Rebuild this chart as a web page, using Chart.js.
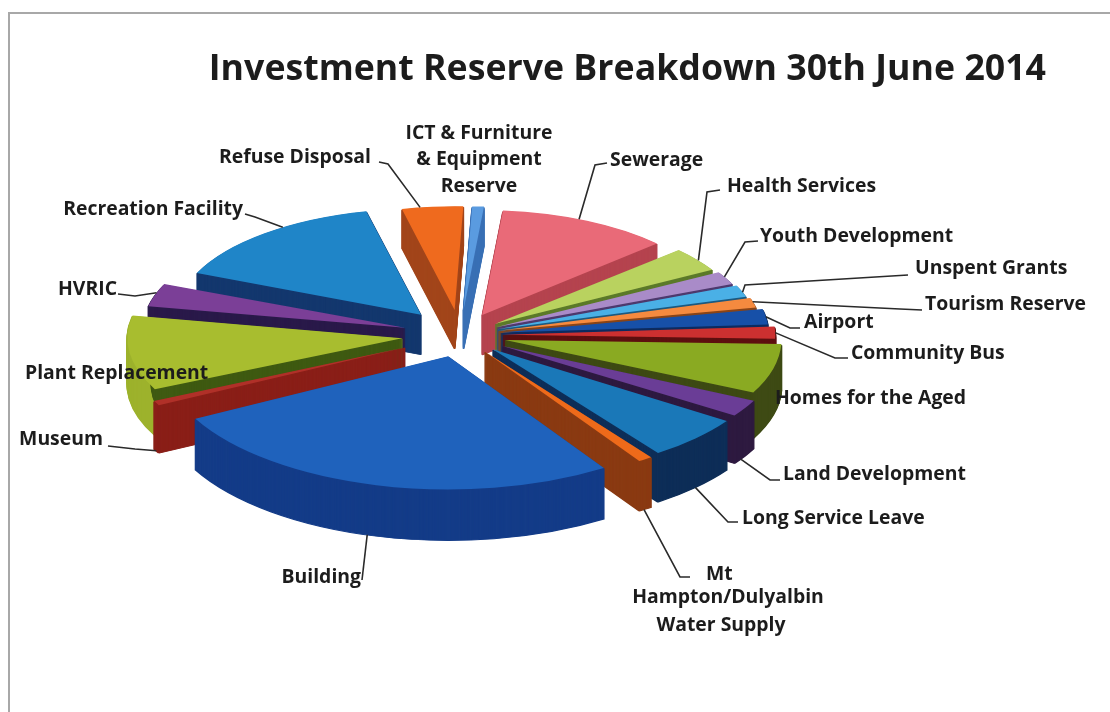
<!DOCTYPE html>
<html>
<head>
<meta charset="utf-8">
<script src="https://cdn.jsdelivr.net/npm/chart.js@4"></script>
<style>
  html, body { margin: 0; padding: 0; background: #fff; overflow: hidden; }
  #frame { position: absolute; left: 8px; top: 12px; width: 1200px; height: 800px; border-left: 2px solid #a8a8a8; border-top: 2px solid #a8a8a8; }
  canvas { position: absolute; left: 0; top: 0; }
</style>
</head>
<body>
<div id="frame"></div>
<canvas id="pie" width="1110" height="712"></canvas>
<script>
const titleText = 'Investment Reserve Breakdown 30th June 2014'

const categories = ['Sewerage', 'Health Services', 'Youth Development', 'Unspent Grants', 'Tourism Reserve', 'Airport', 'Community Bus', 'Homes for the Aged', 'Land Development', 'Long Service Leave', 'Mt Hampton/Dulyalbin Water Supply', 'Building', 'Museum', 'Plant Replacement', 'HVRIC', 'Recreation Facility', 'Refuse Disposal', 'ICT & Furniture & Equipment Reserve']
const shares = [11.7, 3.6, 1.9, 1.7, 1.4, 2.2, 1.7, 6.7, 2.2, 5.6, 0.8, 26.4, 0.6, 10.3, 3.3, 15, 4.2, 0.8]

const topColors = ['#e96a78', '#b9d25f', '#a98bc8', '#4ab0e6', '#f58a3f', '#1750a8', '#cc3030', '#8aaa22', '#6a3d96', '#1a78b8', '#ee6a1a', '#1f62bc', '#b03028', '#a8bd2f', '#7b3f97', '#1f85c8', '#ef6a1e', '#5a9be0']
const wallColors = ['#b5444f', '#5c7a2a', '#4e3a6e', '#1c5a80', '#8a4518', '#0e2c60', '#5e1010', '#3e4a14', '#2e1a40', '#0e2e58', '#8a3a12', '#143c88', '#8a1f18', '#3f5a12', '#2a1a4a', '#14386e', '#a2451a', '#3a70b5']
// only Plant Replacement has a curved outside wall that differs from its cut face
const rimColors = [null, null, null, null, null, null, null, null, null, null, null, null, null, '#9db22c', null, null, null, null]
// how far each slice is pulled out of the pie
const explode = [58, 48, 44, 42, 41, 42, 43, 46, 48, 44, 42, 45, 60, 58, 60, 68, 66, 66]

// text lines, anchor x, middle y, alignment
const labelText = [
  [['Sewerage'], 610, 160, 'left'],
  [['Health Services'], 727, 186, 'left'],
  [['Youth Development'], 760, 236, 'left'],
  [['Unspent Grants'], 915, 268, 'left'],
  [['Tourism Reserve'], 925, 304, 'left'],
  [['Airport'], 804, 322, 'left'],
  [['Community Bus'], 851, 353, 'left'],
  [['Homes for the Aged'], 775, 398, 'left'],
  [['Land Development'], 783, 474, 'left'],
  [['Long Service Leave'], 742, 518, 'left'],
  [['Mt'], 706, 574, 'left'],
  [['Building'], 361, 577, 'right'],
  [['Museum'], 103, 439, 'right'],
  [['Plant Replacement'], 25, 373, 'left'],
  [['HVRIC'], 117, 289, 'right'],
  [['Recreation Facility'], 243, 209, 'right'],
  [['Refuse Disposal'], 371, 157, 'right'],
  [['ICT & Furniture', '& Equipment', 'Reserve'], 479, 133, 'center']
]
const extraLabels = [['Hampton/Dulyalbin', 728, 597], ['Water Supply', 721, 625]]

// callout: where along the rim it lands (0..1), on the side wall or not, then its elbow and end
const callouts = [
  [0.45, false, 595, 165, 607, 163],
  [0.55, false, 707, 192, 720, 190],
  [0.4, false, 745, 242, 758, 241],
  [0.6, false, 745, 285, 908, 275],
  [0.4, false, 900, 309, 922, 310],
  [0.5, false, 790, 328, 800, 328],
  [0.5, false, 835, 358, 848, 358],
  null,
  [0.7, true, 770, 480, 780, 480],
  [0.5, true, 728, 522, 738, 522],
  [0.6, true, 680, 577, 690, 577],
  [0.52, true, 362, 580, 362, 580],
  [0.5, true, 135, 449, 108, 446],
  null,
  [0.6, false, 135, 296, 118, 294],
  [0.6, false, 255, 217, 245, 214],
  [0.3, false, 388, 164, 379, 162],
  null
]

const pieX = 460
const pieY = 335
const pieRadius = 273
const labelFont = 'bold 19.4px "Open Sans"'

// fake the perspective of the original: back slices are smaller and flatter than the front ones
const tilt = (arc) => {
  const mid = (arc.startAngle + arc.endAngle) / 2
  const f = -Math.cos(mid + Math.PI / 2)
  return {
    f,
    mid,
    sx: f < 0 ? 1 + 0.14 * f : 1 + 0.05 * f,
    sy: f < 0 ? 0.42 + 0.04 * f : 0.42 + 0.07 * f,
    depth: 45 + 6 * f,
  }
}

// arc.draw widens thin pulled-out slices in its own way, so the pull-out is done here
const paintArc = (ctx, arc, color, edge) => {
  const opts = arc.options
  arc.options = Object.assign({}, opts, { backgroundColor: color, borderColor: color, borderWidth: edge, offset: 0 })
  arc.draw(ctx)
  arc.options = opts
}

const placeArc = (ctx, arc, t, dy) => {
  const pull = arc.options.offset / 4
  ctx.translate(pieX, pieY + dy)
  ctx.scale(t.sx, t.sy)
  ctx.translate(Math.cos(t.mid) * pull - arc.x, Math.sin(t.mid) * pull - arc.y)
}

const rimPoint = (arc, frac, wall) => {
  const t = tilt(arc)
  const pull = arc.options.offset / 4
  const a = arc.startAngle + (arc.endAngle - arc.startAngle) * frac
  const px = pull * Math.cos(t.mid) + arc.outerRadius * Math.cos(a)
  const py = pull * Math.sin(t.mid) + arc.outerRadius * Math.sin(a)
  return [pieX + t.sx * px, pieY + t.sy * py + (wall ? t.depth : 0)]
}

const stackWall = (ctx, arc, t, color) => {
  for (let k = Math.round(t.depth); k >= 1; k--) {
    ctx.save()
    placeArc(ctx, arc, t, k)
    paintArc(ctx, arc, color, 2)
    ctx.restore()
  }
}

const solidPie = {
  id: 'solidPie',
  beforeDatasetDraw(chart, args) {
    const ctx = chart.ctx
    const order = args.meta.data.map((arc, i) => i).sort((a, b) => tilt(args.meta.data[a]).f - tilt(args.meta.data[b]).f)
    order.forEach((i) => {
      const arc = args.meta.data[i]
      const t = tilt(arc)
      if (rimColors[i]) {
        stackWall(ctx, arc, t, rimColors[i])
        const fullRadius = arc.outerRadius
        arc.outerRadius = fullRadius - 24
        stackWall(ctx, arc, t, wallColors[i])
        arc.outerRadius = fullRadius
      } else {
        stackWall(ctx, arc, t, wallColors[i])
      }
      ctx.save()
      placeArc(ctx, arc, t, 0)
      paintArc(ctx, arc, topColors[i], 0)
      ctx.restore()
    })
    return false
  },
  afterDraw(chart) {
    const ctx = chart.ctx
    const arcs = chart.getDatasetMeta(0).data
    ctx.save()
    ctx.strokeStyle = '#2a2a2a'
    ctx.lineWidth = 1.6
    callouts.forEach((c, i) => {
      if (!c) return
      const start = rimPoint(arcs[i], c[0], c[1])
      ctx.beginPath()
      ctx.moveTo(start[0], start[1])
      ctx.lineTo(c[2], c[3])
      ctx.lineTo(c[4], c[5])
      ctx.stroke()
    })
    ctx.fillStyle = '#1c1c1c'
    ctx.font = labelFont
    ctx.textBaseline = 'middle'
    labelText.forEach((l) => {
      ctx.textAlign = l[3]
      l[0].forEach((line, n) => ctx.fillText(line, l[1], l[2] + n * 26.5))
    })
    ctx.textAlign = 'center'
    extraLabels.forEach((l) => ctx.fillText(l[0], l[1], l[2]))
    ctx.restore()
  },
}

new Chart(document.getElementById('pie'), {
  type: 'pie',
  plugins: [solidPie],
  data: {
    labels: categories,
    datasets: [{
      data: shares,
      backgroundColor: topColors,
      borderWidth: 0,
      offset: explode.map((d) => d * 4),
    }],
  },
  options: {
    responsive: false,
    animation: false,
    rotation: 5,
    radius: pieRadius,
    layout: { padding: { right: 64, top: 48 } },
    events: [],
    plugins: {
      legend: { display: false },
      tooltip: { enabled: false },
      title: {
        display: true,
        text: titleText,
        align: 'end',
        color: '#1c1c1c',
        font: { family: '"Open Sans"', size: 35.7, weight: 'bold' },
        padding: { top: 0, bottom: 10 },
      },
    },
  },
})
</script>
</body>
</html>
